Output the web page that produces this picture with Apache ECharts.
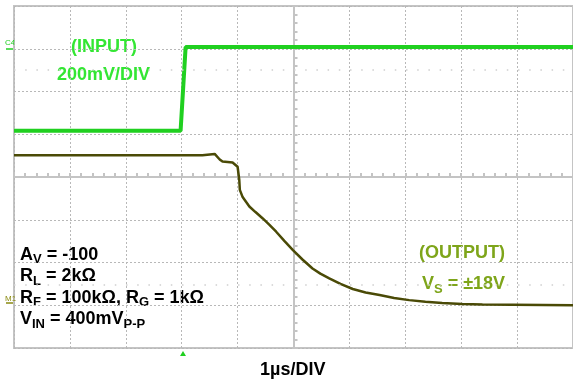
<!DOCTYPE html>
<html>
<head>
<meta charset="utf-8">
<script src="https://cdn.jsdelivr.net/npm/echarts@6/dist/echarts.min.js"></script>
<style>
  html, body { margin: 0; padding: 0; background: #fff; }
  #chart { width: 573px; height: 383px; }
</style>
</head>
<body>
<div id="chart"></div>
<script>
// time in µs (1µs/div, trigger at center), amplitude in divisions from screen center
const inputTime = [-5, -2.02, -1.93, 5]
const inputLevel = [1.08, 1.08, 3.04, 3.04]

const outputTime = [-5, -1.63, -1.60, -1.41, -1.32, -1.27, -1.09, -1.0, -0.97, -0.96, -0.91, -0.79, -0.68, -0.55, -0.43, -0.31, -0.16, -0.01, 0.16, 0.34, 0.48, 0.64, 0.84, 1.06, 1.29, 1.54, 1.80, 2.07, 2.36, 2.66, 3.02, 3.38, 5]
const outputLevel = [0.51, 0.51, 0.54, 0.54, 0.41, 0.36, 0.34, 0.24, -0.07, -0.30, -0.47, -0.69, -0.82, -0.97, -1.12, -1.28, -1.50, -1.71, -1.93, -2.14, -2.26, -2.37, -2.50, -2.62, -2.70, -2.76, -2.83, -2.88, -2.92, -2.95, -2.97, -2.98, -3.0]

const cursorLevels = [2.5, -2.53]

const chart = echarts.init(document.getElementById('chart'))

const pair = (xs, ys) => xs.map((x, i) => [x, ys[i]])

const INPUT_COLOR = '#20d020'
const INPUT_TEXT = '#33e633'
const OUTPUT_COLOR = '#4a4a06'
const OUTPUT_TEXT = '#7ea51a'
const GRID_COLOR = '#c4c4c4'
const FONT = 'Liberation Sans, Arial, sans-serif'

const centerAxis = (inside, min, max) => ({
  type: 'value',
  min: min,
  max: max,
  interval: 1,
  axisLabel: { show: false },
  axisLine: { show: true, onZero: true, lineStyle: { color: GRID_COLOR, width: 2 } },
  axisTick: { show: true, inside: inside, length: 4, lineStyle: { color: GRID_COLOR, width: 2 } },
  minorTick: { show: true, splitNumber: 5, length: 4, lineStyle: { color: GRID_COLOR, width: 2 } },
  splitLine: { show: inside, lineStyle: { color: '#b8b8b8', type: [2, 2], width: 1 } }
})

const option = {
  animation: false,
  grid: {
    left: 14,
    top: 6,
    width: 560,
    height: 342,
    show: true,
    borderColor: GRID_COLOR,
    borderWidth: 2
  },
  xAxis: [centerAxis(true, -5, 5), centerAxis(false, -5, 5)],
  yAxis: [centerAxis(true, -4, 4), centerAxis(false, -4, 4)],
  series: [
    {
      name: 'input',
      type: 'line',
      data: pair(inputTime, inputLevel),
      symbol: 'none',
      lineStyle: { color: INPUT_COLOR, width: 4 },
      markLine: {
        silent: true,
        symbol: 'none',
        label: { show: false },
        lineStyle: { color: '#cfcfcf', type: [1.5, 9.7], width: 1.5 },
        data: cursorLevels.map(v => ({ yAxis: v }))
      },
      z: 3
    },
    {
      name: 'output',
      type: 'line',
      data: pair(outputTime, outputLevel),
      symbol: 'none',
      lineStyle: { color: OUTPUT_COLOR, width: 2.5 },
      z: 4
    }
  ],
  graphic: [
    { type: 'text', x: 71, y: 38, style: { text: '(INPUT)', fill: INPUT_TEXT, font: 'bold 18px ' + FONT } },
    { type: 'text', x: 57, y: 66, style: { text: '200mV/DIV', fill: INPUT_TEXT, font: 'bold 18px ' + FONT } },
    { type: 'text', x: 419, y: 244, style: { text: '(OUTPUT)', fill: OUTPUT_TEXT, font: 'bold 18px ' + FONT } },
    {
      type: 'text', x: 422, y: 273,
      style: {
        text: '{m|V}{s|S}{m| = ±18V}',
        fill: OUTPUT_TEXT,
        rich: {
          m: { font: 'bold 18px ' + FONT, fill: OUTPUT_TEXT },
          s: { font: 'bold 13px ' + FONT, fill: OUTPUT_TEXT, padding: [10, 0, 0, 0] }
        }
      }
    },
    {
      type: 'text', x: 20, y: 244,
      style: {
        text: '{m|A}{s|V}{m| = -100}\n{m|R}{s|L}{m| = 2kΩ}\n{m|R}{s|F}{m| = 100kΩ, R}{s|G}{m| = 1kΩ}\n{m|V}{s|IN}{m| = 400mV}{s|P-P}',
        lineHeight: 21.5,
        rich: {
          m: { font: 'bold 18px ' + FONT, fill: '#000', lineHeight: 21.5 },
          s: { font: 'bold 13px ' + FONT, fill: '#000', padding: [10, 0, 0, 0], lineHeight: 21.5 }
        }
      }
    },
    { type: 'text', x: 260, y: 361, style: { text: '1µs/DIV', fill: '#000', font: 'bold 18px ' + FONT } },
    { type: 'text', x: 5, y: 39, style: { text: 'C4', fill: INPUT_COLOR, fontSize: 8, fontFamily: 'Liberation Sans' } },
    { type: 'line', shape: { x1: 6, y1: 49, x2: 13, y2: 49 }, style: { stroke: INPUT_COLOR, lineWidth: 1.5 } },
    { type: 'text', x: 5, y: 295, style: { text: 'M1', fill: '#8a8a10', fontSize: 8, fontFamily: 'Liberation Sans' } },
    { type: 'line', shape: { x1: 6, y1: 303, x2: 13, y2: 303 }, style: { stroke: '#8a8a10', lineWidth: 1.5 } },
    { type: 'polygon', shape: { points: [[183, 351], [180, 356], [186, 356]] }, style: { fill: INPUT_COLOR } }
  ]
}

chart.setOption(option)

window.addEventListener('resize', () => {
  chart.resize()
})
</script>
</body>
</html>
